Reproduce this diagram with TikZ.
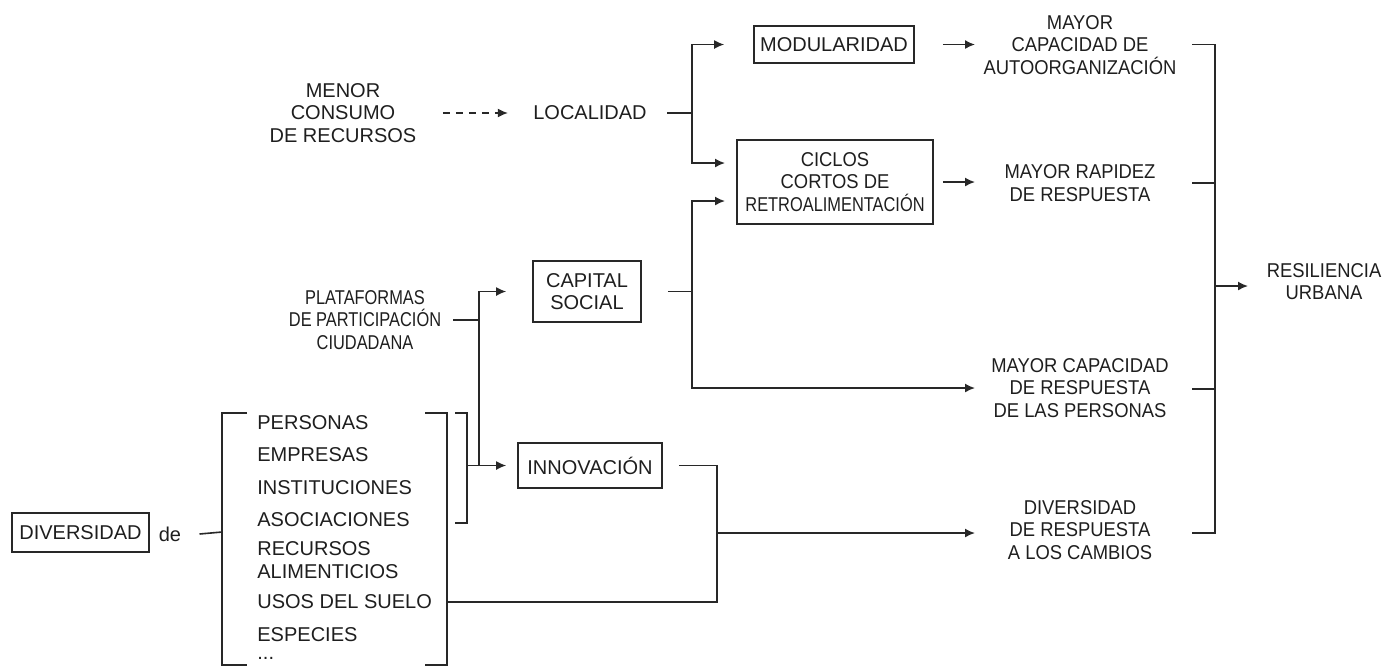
\documentclass[tikz,border=0pt]{standalone}
\usepackage{fontspec}
\setmainfont{Liberation Sans}
\newfontfamily\narrowA{Liberation Sans}[FakeStretch=0.92]
\newfontfamily\narrowB{Liberation Sans}[FakeStretch=0.82]
\usetikzlibrary{arrows.meta,calc}
\definecolor{inkc}{RGB}{30,30,30}
\definecolor{linec}{RGB}{40,40,40}

\tikzset{
  txt/.style={align=center,inner sep=0pt,text=inkc},
  outtxt/.style={txt,font=\fontsize{10}{11.25}\selectfont\narrowA},
  item/.style={txt,anchor=west,align=left},
  boxn/.style={txt,draw=linec,line width=0.8pt},
  conn/.style={draw=linec,line width=0.8pt},
  arr/.style={conn,-{Latex[length=5pt,width=4.5pt]}},
  dasharr/.style={arr,dash pattern=on 3.5pt off 3pt},
}

\begin{document}
\begin{tikzpicture}[x=0.5pt,y=-0.5pt,font=\fontsize{10}{11.25}\selectfont]
  \useasboundingbox (0,0) rectangle (1391,666);

  % left: diversity and its list
  \node[boxn,minimum width=68.5pt,minimum height=19.5pt] (div) at (80.5,532.5) {DIVERSIDAD};
  \node[txt] (de) at (170,534) {de};
  \node[item] (per) at (257,423) {PERSONAS};
  \node[item] (emp) at (257,455) {EMPRESAS};
  \node[item] (inst) at (257,488) {INSTITUCIONES};
  \node[item] (asoc) at (257,520) {ASOCIACIONES};
  \node[item] (recu) at (257,560) {RECURSOS\\ALIMENTICIOS};
  \node[item] (usos) at (257,602) {USOS DEL SUELO};
  \node[item] (esp) at (257,635) {ESPECIES};
  \node[item] (etc) at (257,658) {...};

  % middle column
  \node[txt] (menor) at (343,113) {MENOR\\CONSUMO\\DE RECURSOS};
  \node[txt] (loc) at (590,113) {LOCALIDAD};
  \node[txt,font=\fontsize{10}{11.25}\selectfont\narrowB] (plat) at (365,320) {PLATAFORMAS\\DE PARTICIPACIÓN\\CIUDADANA};
  \node[boxn,minimum width=54pt,minimum height=30.5pt] (cap) at (587,291.5) {CAPITAL\\SOCIAL};
  \node[boxn,minimum width=72pt,minimum height=22.5pt] (inn) at (590,465.5) {INNOVACIÓN};
  \node[boxn,minimum width=80pt,minimum height=18.5pt] (modu) at (834,44.5) {MODULARIDAD};
  \node[boxn,minimum width=98pt,minimum height=42pt,font=\fontsize{10}{11.25}\selectfont\narrowA] (cic) at (835,182)
    {CICLOS\\CORTOS DE\\{\narrowB RETROALIMENTACIÓN}};

  % right column
  \node[outtxt] (auto) at (1080,45) {MAYOR\\CAPACIDAD DE\\AUTOORGANIZACIÓN};
  \node[outtxt] (rap) at (1080,183) {MAYOR RAPIDEZ\\DE RESPUESTA};
  \node[outtxt] (resp) at (1080,388) {MAYOR CAPACIDAD\\DE RESPUESTA\\DE LAS PERSONAS};
  \node[outtxt] (divr) at (1080,530) {DIVERSIDAD\\DE RESPUESTA\\A LOS CAMBIOS};
  \node[outtxt] (res) at (1324,281.5) {RESILIENCIA\\URBANA};

  % junctions and free ends
  \coordinate (brL) at (222,532);
  \coordinate (locJ) at (692,113);
  \coordinate (capJ) at (692,291.5);
  \coordinate (cicA) at (725,163);
  \coordinate (cicB) at (725,201);
  \coordinate (platJ) at (479,320);
  \coordinate (actJ) at (467,465.5);
  \coordinate (vJ) at (479,465.5);
  \coordinate (usoJ) at (447,602);
  \coordinate (divJ) at (717,533);
  \coordinate (autoIn) at (975,44.5);
  \coordinate (rapIn) at (975,182);
  \coordinate (respIn) at (975,388);
  \coordinate (divIn) at (975,533);
  \coordinate (resJ) at (1215,286);
  \coordinate (resIn) at (1248,286);

  % brackets
  \draw[conn] (247,413) -| (222,665) -- (247,665);
  \draw[conn] (425,413) -| (447,665) -- (425,665);
  \draw[conn] (455,413) -| (467,523) -- (455,523);
  \draw[conn] (1192,44.5) -| (1215,533) -- (1192,533);
  \draw[conn] (1192,183) -- (1215,183);
  \draw[conn] (1192,389) -- (1215,389);

  % connectors
  \draw[conn] ([xshift=9pt]de.east) -- (brL);
  \draw[dasharr] ([xshift=13pt]menor.east) -- ([xshift=-12.5pt]loc.west);
  \draw[conn] ([xshift=10pt]loc.east) -- (locJ);
  \draw[arr] (locJ) |- ([xshift=-14.5pt]modu.west);
  \draw[arr] (locJ) |- (cicA);
  \draw[conn] ([xshift=13pt]cap.east) -- (capJ);
  \draw[arr] (capJ) |- (cicB);
  \draw[arr] (capJ) |- (respIn);
  \draw[arr] ([xshift=14pt]modu.east) -- (autoIn);
  \draw[arr] ([xshift=4.5pt]cic.east) -- (rapIn);
  \draw[conn] ([xshift=6pt]plat.east) -- (platJ);
  \draw[arr] (vJ) |- ([xshift=-13pt]cap.west);
  \draw[arr] (actJ) -- ([xshift=-5.5pt]inn.west);
  \draw[conn] ([xshift=8pt]inn.east) -| (divJ) |- (usoJ);
  \draw[arr] (divJ) -- (divIn);
  \draw[arr] (resJ) -- (resIn);
\end{tikzpicture}
\end{document}
